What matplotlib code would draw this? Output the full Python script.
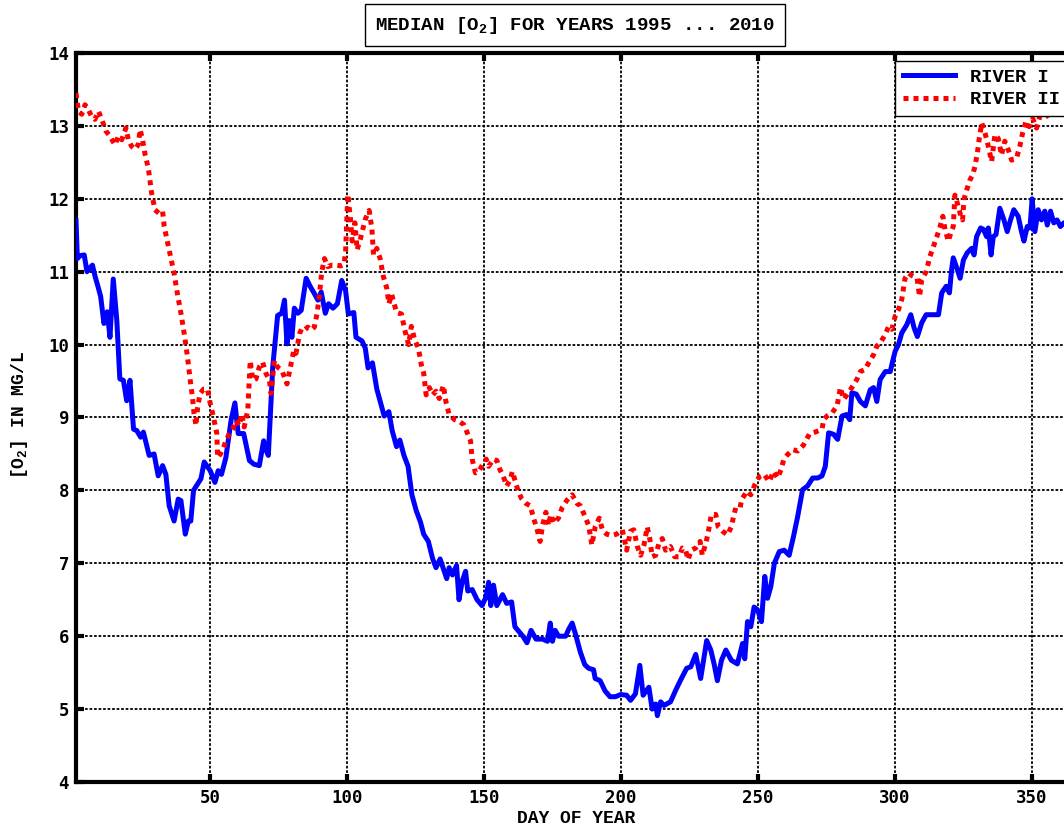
import matplotlib
matplotlib.use('Agg')
import matplotlib.pyplot as plt

# 读图得到的数据 (day of year, median O2 mg/L)
river1_day = [1, 1.5, 2.5, 4, 5, 6, 7, 8, 9, 10, 11.2, 12.4, 13.4, 14.6, 15.9, 17, 18.3, 19.5, 20.7,
              22, 23.2, 24.6, 25.6, 27.7, 29.5, 31, 32.6, 33.8, 35, 36.8, 38.3, 39.3, 40.9, 42, 42.9,
              43.9, 46.6, 47.8, 50, 51.7, 52.9, 54.1, 55.7, 57.6, 59, 60.2, 62.2, 64.3, 65.9, 67.9,
              69.5, 70.4, 71.2, 72.8, 74.6, 76.1, 77.1, 78, 78.9, 79.8, 80.7, 82, 83.2, 85, 86.6, 88,
              89.3, 90.5, 92, 93.2, 94.8, 96.4, 98, 99.4, 100.4, 102.4, 103.2, 105.4, 106.6, 107.6,
              109.2, 110.8, 112.4, 113.5, 115.2, 116.4, 118, 119.2, 120.7, 122.2, 123.6, 125.2, 126.7,
              127.9, 129.6, 131.2, 132.4, 133.9, 135.4, 136.3, 137.2, 138.4, 139.9, 140.8, 142, 143.2,
              144, 145.6, 147.4, 149.2, 150.7, 151.6, 152.4, 153.4, 154.6, 156.7, 158.2, 160, 161.2,
              163, 164.1, 165.6, 167.1, 168.9, 171.3, 173.1, 174.1, 174.9, 175.9, 177.1, 179.7, 180.9,
              182.1, 183.3, 185.1, 186.7, 188.1, 189.9, 190.5, 192.3, 194.1, 195.9, 197.9, 199.8, 202,
              203.4, 205.2, 206.8, 208, 210.1, 211.3, 212.6, 213.2, 214.4, 215.6, 218, 219.9, 221.7,
              223.9, 225.4, 227.2, 229, 231.2, 232.7, 233.9, 235.1, 236.6, 238.2, 240.2, 242.4, 244.3,
              245.1, 246.1, 247.3, 248.5, 249.8, 251.2, 252.4, 253.4, 254.6, 255.9, 257.7, 259.5, 261.3,
              262.9, 264.4, 266.2, 268, 269.9, 271.7, 273.3, 274.5, 275.7, 277.5, 279, 280.6, 282.2,
              283.4, 284.2, 285.8, 287.3, 289.1, 290.9, 292.1, 293.3, 294.5, 296.4, 298.2, 299.2, 300,
              301.2, 302.4, 304.2, 305.7, 306.9, 308.1, 309.7, 311.3, 314, 315.8, 317, 318.6, 319.8,
              320.6, 321.2, 322.5, 323.7, 324.9, 326.3, 327.9, 328.8, 329.7, 331.2, 332.2, 333.4, 334,
              335, 335.8, 336.8, 338.2, 339.7, 340.9, 342.1, 343.3, 344.9, 346.1, 347, 348.2, 349.2,
              350, 351, 352.2, 353.4, 354.6, 355.5, 356.7, 357.9, 359.1, 360.3, 361.6, 363.5, 366]
river1_o2 = [11.7, 11.18, 11.22, 11.23, 11.0, 11.05, 11.09, 10.93, 10.8, 10.66, 10.29, 10.45, 10.1, 10.9,
             10.33, 9.53, 9.51, 9.23, 9.51, 8.84, 8.82, 8.73, 8.8, 8.48, 8.5, 8.2, 8.34, 8.22, 7.79,
             7.58, 7.88, 7.86, 7.4, 7.58, 7.58, 8.0, 8.16, 8.39, 8.27, 8.11, 8.27, 8.22, 8.45, 8.96,
             9.2, 8.78, 8.78, 8.41, 8.36, 8.34, 8.68, 8.55, 8.48, 9.69, 10.4, 10.43, 10.61, 10.01,
             10.33, 10.1, 10.5, 10.43, 10.47, 10.91, 10.79, 10.7, 10.61, 10.72, 10.43, 10.56, 10.5,
             10.56, 10.88, 10.74, 10.42, 10.44, 10.1, 10.05, 9.95, 9.68, 9.75, 9.39, 9.17, 9.02, 9.08,
             8.82, 8.6, 8.69, 8.48, 8.33, 7.94, 7.72, 7.57, 7.4, 7.3, 7.06, 6.94, 7.06, 6.89, 6.79,
             6.94, 6.84, 6.97, 6.5, 6.76, 6.89, 6.62, 6.64, 6.5, 6.42, 6.54, 6.74, 6.42, 6.7, 6.42,
             6.57, 6.45, 6.47, 6.13, 6.05, 6.0, 5.91, 6.08, 5.96, 5.96, 5.93, 6.18, 5.93, 6.08, 6.0,
             6.0, 6.1, 6.18, 6.03, 5.78, 5.61, 5.56, 5.54, 5.42, 5.39, 5.25, 5.17, 5.17, 5.2, 5.19,
             5.12, 5.21, 5.6, 5.19, 5.3, 5.0, 5.07, 4.91, 5.1, 5.05, 5.1, 5.26, 5.4, 5.56, 5.58, 5.75,
             5.42, 5.94, 5.81, 5.62, 5.39, 5.67, 5.81, 5.67, 5.62, 5.9, 5.69, 6.2, 6.13, 6.4, 6.36,
             6.2, 6.82, 6.52, 6.68, 7.0, 7.16, 7.18, 7.11, 7.37, 7.64, 8.01, 8.06, 8.17, 8.17, 8.2,
             8.33, 8.79, 8.77, 8.7, 9.02, 9.04, 8.97, 9.34, 9.32, 9.22, 9.16, 9.38, 9.41, 9.22, 9.52,
             9.63, 9.63, 9.79, 9.91, 10.0, 10.16, 10.27, 10.41, 10.23, 10.11, 10.3, 10.41, 10.41,
             10.41, 10.71, 10.8, 10.71, 11.03, 11.19, 11.05, 10.91, 11.16, 11.26, 11.32, 11.23, 11.48,
             11.6, 11.58, 11.48, 11.6, 11.23, 11.48, 11.51, 11.87, 11.71, 11.55, 11.71, 11.85, 11.76,
             11.55, 11.42, 11.62, 11.6, 12.0, 11.55, 11.85, 11.71, 11.83, 11.64, 11.83, 11.67, 11.71,
             11.62, 11.67, 11.6, 11.55]

river2_day = [1, 1.9, 3.1, 4.3, 5.5, 6.7, 7.9, 9.2, 10.4, 11.9, 13.4, 15.2, 16.5, 17.7, 19.2, 20.1, 21.3,
              22.5, 23.7, 24.4, 25.3, 26.2, 27.4, 28.6, 29.8, 31.3, 32.6, 33.2, 35, 36.8, 38, 39.3,
              40.5, 41.7, 42.7, 43.5, 44.1, 44.8, 45.4, 46.3, 47.6, 49, 50, 50.9, 51.7, 52.4, 52.7,
              53.7, 54.9, 55.7, 57, 58.2, 59.4, 60.6, 61.5, 62.4, 63.7, 64.6, 65.5, 66.7, 67.9, 69.1,
              70.4, 71.6, 72.2, 73.4, 74.6, 76.1, 78, 79.5, 80.5, 81.3, 82.6, 83.4, 84.4, 85.6, 86.8,
              88, 89, 89.9, 90.7, 91.7, 92.9, 94.4, 96, 97.6, 98.8, 99.4, 100.2, 101.2, 101.8, 102.8,
              103.6, 104.8, 106.6, 108, 109, 109.6, 110.8, 112, 113.2, 114.4, 115.2, 116.2, 118, 119.8,
              121, 122.4, 123.4, 124.6, 126, 127, 127.9, 128.8, 130, 131.2, 132.4, 133.6, 135.1, 136,
              137.2, 139.2, 140.8, 142.6, 144, 145, 145.6, 146.8, 148, 149.5, 150.7, 151.6, 153.4,
              154.6, 155.8, 157, 158.2, 159.4, 160.3, 161.2, 162.4, 163.6, 165.3, 166.8, 168, 169.2,
              170.4, 171.3, 172.5, 173.5, 174.3, 175.5, 177.1, 178.5, 180.3, 182.1, 183.9, 185.1,
              186.7, 188.1, 189.3, 190.5, 192, 193.2, 194.7, 196.5, 198.3, 200.4, 201.2, 202, 203.4,
              204.6, 205.9, 207.1, 208.3, 209.5, 210.5, 211.3, 212.6, 213.8, 215, 216.2, 218, 219.5,
              221.1, 222.3, 223.5, 224.4, 225.6, 227.2, 228.8, 229.6, 230.9, 231.7, 232.9, 234.5,
              235.4, 237, 238.8, 240.2, 241, 241.8, 243.4, 243.9, 245.9, 247.3, 248.8, 250.4, 252.2,
              254, 255.6, 257.1, 258.3, 259.3, 260.7, 262.6, 264.4, 266.5, 268.8, 270.8, 273.3, 273.9,
              275.1, 276.9, 278.8, 280, 281.2, 283, 284.8, 286, 287.3, 289.1, 290.3, 292.1, 293.3,
              294.5, 296.4, 297.6, 298.8, 300, 301.2, 302.4, 303.6, 304.9, 306.4, 308, 308.9, 309.7,
              311.3, 312.7, 314, 315.2, 316.4, 317.4, 318.2, 319.4, 320.3, 321.2, 321.8, 322.7, 323.7,
              324.6, 325.1, 326.1, 327.3, 328.3, 329.1, 330, 330.7, 331.6, 332.8, 334, 335.2, 336.4,
              337.6, 338.8, 340, 341.3, 342.5, 344.3, 345.5, 346.5, 347.7, 348.9, 350.2, 351.6, 352.8,
              354.2, 355.8, 357.6, 360.1, 362.5, 366]
river2_o2 = [13.45, 13.2, 13.16, 13.29, 13.22, 13.13, 13.09, 13.2, 13.09, 12.93, 12.86, 12.74, 12.86,
             12.81, 12.97, 12.81, 12.72, 12.68, 12.74, 12.95, 12.81, 12.61, 12.42, 12.08, 11.85, 11.8,
             11.83, 11.62, 11.3, 10.98, 10.7, 10.43, 10.15, 9.83, 9.51, 9.28, 9.05, 8.89, 9.14, 9.33,
             9.39, 9.39, 9.19, 9.05, 8.91, 8.78, 8.45, 8.5, 8.59, 8.68, 8.78, 8.84, 8.96, 8.89, 9.05,
             8.87, 9.1, 9.78, 9.51, 9.53, 9.69, 9.76, 9.6, 9.51, 9.33, 9.78, 9.69, 9.65, 9.46, 9.74,
             9.92, 9.88, 10.15, 10.22, 10.2, 10.24, 10.2, 10.24, 10.43, 10.7, 11.0, 11.18, 11.07,
             11.09, 11.09, 11.08, 11.1, 11.27, 12.06, 11.72, 11.42, 11.67, 11.3, 11.45, 11.72, 11.84,
             11.59, 11.23, 11.32, 11.18, 10.93, 10.78, 10.56, 10.69, 10.44, 10.42, 10.2, 10.0, 10.25,
             10.07, 9.95, 9.73, 9.61, 9.31, 9.41, 9.31, 9.36, 9.26, 9.44, 9.22, 9.04, 8.97, 8.95, 8.9,
             8.77, 8.68, 8.43, 8.24, 8.26, 8.36, 8.43, 8.33, 8.43, 8.41, 8.28, 8.19, 8.06, 8.14, 8.26,
             8.14, 7.99, 7.89, 7.82, 7.79, 7.62, 7.48, 7.3, 7.52, 7.7, 7.52, 7.67, 7.55, 7.62, 7.77,
             7.87, 7.94, 7.82, 7.79, 7.65, 7.52, 7.25, 7.5, 7.62, 7.45, 7.4, 7.38, 7.4, 7.46, 7.32,
             7.18, 7.44, 7.46, 7.23, 7.11, 7.25, 7.5, 7.32, 7.09, 7.11, 7.28, 7.34, 7.18, 7.23, 7.09,
             7.09, 7.21, 7.18, 7.05, 7.18, 7.21, 7.3, 7.11, 7.28, 7.41, 7.67, 7.67, 7.5, 7.44, 7.39,
             7.5, 7.64, 7.76, 7.76, 7.87, 7.99, 7.94, 8.08, 8.19, 8.22, 8.12, 8.26, 8.17, 8.28, 8.42,
             8.49, 8.56, 8.54, 8.62, 8.78, 8.8, 8.84, 8.97, 9.02, 9.06, 9.16, 9.41, 9.25, 9.34, 9.45,
             9.52, 9.63, 9.66, 9.75, 9.86, 9.98, 10.02, 10.14, 10.25, 10.21, 10.39, 10.48, 10.62,
             10.91, 10.98, 10.94, 10.91, 10.66, 10.89, 11.0, 11.21, 11.35, 11.48, 11.62, 11.76, 11.58,
             11.42, 11.53, 11.62, 12.05, 11.94, 11.8, 11.71, 11.99, 12.12, 12.26, 12.33, 12.44, 12.63,
             12.83, 13.04, 12.9, 12.72, 12.51, 12.88, 12.83, 12.6, 12.79, 12.67, 12.53, 12.56, 12.72,
             12.9, 13.06, 12.99, 13.1, 12.97, 13.13, 13.1, 13.15, 13.17, 13.2, 13.2, 13.2]

x_ticks = [50, 100, 150, 200, 250, 300, 350]
y_ticks = list(range(4, 15))

plt.rcParams['mathtext.default'] = 'regular'
mono = 'Liberation Mono'

fig = plt.figure(figsize=(10.64, 8.25), dpi=100)
# 右边在原图里被裁掉了，所以坐标轴伸出画布
ax = fig.add_axes([76 / 1064, 43 / 825, 1000 / 1064, 729 / 825])

ax.plot(river1_day, river1_o2, color='#0000ff', lw=3.6, label='RIVER I', zorder=3)
ax.plot(river2_day, river2_o2, color='#ff0000', lw=3.6, linestyle=(0, (1, 1)),
        label='RIVER II', zorder=3)

ax.set_xlim(1, 366)
ax.set_ylim(4, 14)
ax.set_xticks(x_ticks)
ax.set_yticks(y_ticks)
ax.grid(True, color='black', linestyle=(0, (1.5, 1)), lw=1.3)
ax.set_axisbelow(True)

for s in ax.spines.values():
    s.set_linewidth(3)
ax.tick_params(direction='in', length=6, width=3, top=True, right=False,
               labelsize=12.5, pad=5)
for lab in ax.get_xticklabels() + ax.get_yticklabels():
    lab.set_fontfamily('DejaVu Sans Mono')
    lab.set_fontweight('bold')

ax.set_xlabel('DAY OF YEAR', fontfamily=mono, fontweight='bold', fontsize=13, labelpad=2)
fig.text(20 / 1064, 1 - 415 / 825, '[O$_2$] IN MG/L', rotation=90, fontfamily=mono,
         fontweight='bold', fontsize=13, ha='center', va='center')

fig.text(575 / 1064, 1 - 25 / 825, 'MEDIAN [O$_2$] FOR YEARS 1995 ... 2010', fontfamily=mono,
         fontweight='bold', fontsize=13.8, ha='center', va='center',
         bbox=dict(boxstyle='square,pad=0.55', fc='white', ec='black', lw=1))

leg = ax.legend(loc='upper left', bbox_to_anchor=((895 - 76) / 1000, (782 - 61) / 729),
                prop={'family': mono, 'weight': 'bold', 'size': 13.5},
                fancybox=False, framealpha=1, edgecolor='black', borderaxespad=0,
                handlelength=2.8, labelspacing=0.3, borderpad=0.4)
leg.get_frame().set_linewidth(1)

fig.savefig('out.png', dpi=100)
